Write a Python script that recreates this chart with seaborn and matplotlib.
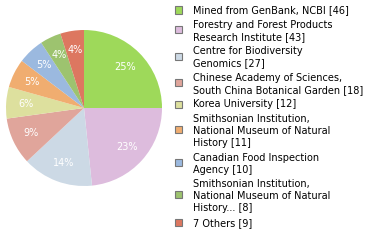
import matplotlib
matplotlib.use("Agg")
import matplotlib.pyplot as plt
import seaborn as sns
from matplotlib.patches import Rectangle

sns.set_style("white")
plt.rcParams['font.family'] = ['DejaVu Sans']

labels = [
    "Mined from GenBank, NCBI [46]",
    "Forestry and Forest Products\nResearch Institute [43]",
    "Centre for Biodiversity\nGenomics [27]",
    "Chinese Academy of Sciences,\nSouth China Botanical Garden [18]",
    "Korea University [12]",
    "Smithsonian Institution,\nNational Museum of Natural\nHistory [11]",
    "Canadian Food Inspection\nAgency [10]",
    "Smithsonian Institution,\nNational Museum of Natural\nHistory... [8]",
    "7 Others [9]",
]
values = [46, 43, 27, 18, 12, 11, 10, 8, 9]
colors = ["#9ed95a", "#ddbcdd", "#ccd9e5", "#e0a59b", "#dde09e",
          "#f0ad70", "#9bb9df", "#9dc36f", "#dd7760"]
palette = sns.color_palette(colors)

W, H = 380, 240
fig = plt.figure(figsize=(W / 100, H / 100), dpi=100)
ax = fig.add_axes([6 / W, 1 - 186 / H, 156 / W, 156 / H])
wedges, texts, autotexts = ax.pie(
    values, colors=palette, startangle=90, counterclock=False,
    autopct=lambda p: f"{int(p)}%", pctdistance=0.75,
    wedgeprops=dict(linewidth=0),
    textprops=dict(color="white", fontsize=7),
)
ax.set_xlim(-1, 1)
ax.set_ylim(-1, 1)
ax.set_aspect("equal")
ax.axis("off")

# legend drawn in figure pixel coordinates
line_h = 12.0
gap = 2.6
y = 10.0
box = 7.0
for lab, col in zip(labels, palette):
    lines = lab.split("\n")
    n = len(lines)
    by = y + (n - 1) * 5.0
    fig.patches.append(Rectangle(((175) / W, 1 - (by + box / 2) / H), box / W, box / H,
                                 transform=fig.transFigure, facecolor=col,
                                 edgecolor="#777777", linewidth=0.8))
    for i, ln in enumerate(lines):
        fig.text(193 / W, 1 - (y + i * line_h) / H, ln, fontsize=7,
                 va="center", ha="left", color="black")
    y += n * line_h + gap

fig.savefig("out.png", dpi=100)
